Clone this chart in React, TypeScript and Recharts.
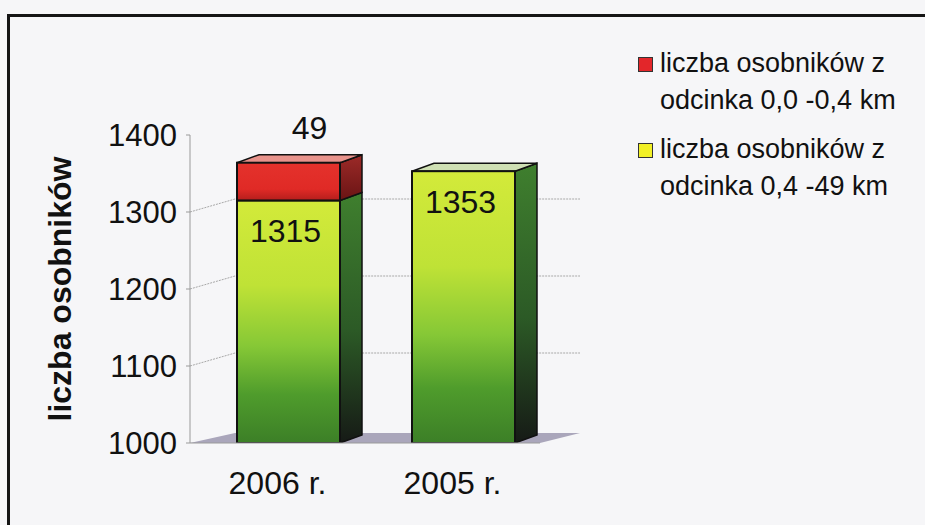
import { Bar, BarChart, CartesianGrid, Label, LabelList, XAxis, YAxis } from 'recharts'

const categories = ['2006 r.', '2005 r.']
// liczba osobników z odcinka 0,4 - 49 km
const odcinekDalszy = [1315, 1353]
// liczba osobników z odcinka 0,0 - 0,4 km
const odcinekBliski = [49, 0]
const yTicks = [1000, 1100, 1200, 1300, 1400]
const legendItems = [
  { lines: ['liczba osobników z', 'odcinka 0,0 -0,4 km'], color: '#e3262a' },
  { lines: ['liczba osobników z', 'odcinka 0,4 -49 km'], color: '#f2f026' },
]

const data = categories.map((name, i) => ({
  name,
  dalszy: odcinekDalszy[i],
  bliski: odcinekBliski[i],
}))

const FONT = '"Liberation Sans", Arial, sans-serif'
const W = 925
const H = 525
const MARGIN = { top: 135, right: 385, bottom: 32, left: 110 }
const X_AXIS_H = 50
const PLOT_TOP = MARGIN.top
const PLOT_BOTTOM = H - MARGIN.bottom - X_AXIS_H

// 3d look
const DX = 22
const DY = 8
const SHIFT = 11
const WALL_DX = 45
const WALL_DY = 13

function bottomOf(p: any) {
  const b = p.background ? p.background.y + p.background.height : PLOT_BOTTOM
  return Math.min(p.y + p.height, b)
}

function GreenShape(p: any) {
  const { y, width, payload } = p
  const x = p.x + SHIFT
  const bottom = bottomOf(p)
  if (bottom - y < 0.5) return null
  const right = x + width
  return (
    <g>
      <polygon
        points={`${right},${y} ${right + DX},${y - DY} ${right + DX},${bottom - DY} ${right},${bottom}`}
        fill="url(#greenSide)"
        stroke="#111"
        strokeWidth={1.5}
      />
      {payload.bliski === 0 && (
        <polygon
          points={`${x},${y} ${x + DX},${y - DY} ${right + DX},${y - DY} ${right},${y}`}
          fill="#cfe0b4"
          stroke="#111"
          strokeWidth={1.5}
        />
      )}
      <rect x={x} y={y} width={width} height={bottom - y} fill="url(#greenFront)" stroke="#111" strokeWidth={2} />
    </g>
  )
}

function RedShape(p: any) {
  const { y, width } = p
  const x = p.x + SHIFT
  const bottom = bottomOf(p)
  if (bottom - y < 0.5) return null
  const right = x + width
  return (
    <g>
      <polygon
        points={`${right},${y} ${right + DX},${y - DY} ${right + DX},${bottom - DY} ${right},${bottom}`}
        fill="url(#redSide)"
        stroke="#111"
        strokeWidth={1.5}
      />
      <polygon
        points={`${x},${y} ${x + DX},${y - DY} ${right + DX},${y - DY} ${right},${y}`}
        fill="#e8938c"
        stroke="#111"
        strokeWidth={1.5}
      />
      <rect x={x} y={y} width={width} height={bottom - y} fill="url(#redFront)" stroke="#111" strokeWidth={2} />
    </g>
  )
}

function wallLine(p: any) {
  const { x1, x2, y1, index } = p
  if (Math.abs(y1 - PLOT_TOP) < 1) return <g key={`wall-${index}`} />
  if (Math.abs(y1 - PLOT_BOTTOM) < 1) {
    return (
      <polygon
        key={`wall-${index}`}
        points={`${x1},${y1} ${x2},${y1} ${x2 + WALL_DX - 5},${y1 - WALL_DY + 3} ${x1 + WALL_DX},${y1 - WALL_DY + 3}`}
        fill="#aaa6bb"
      />
    )
  }
  return (
    <path
      key={`wall-${index}`}
      d={`M${x1},${y1} L${x1 + WALL_DX},${y1 - WALL_DY} L${x2 + WALL_DX - 5},${y1 - WALL_DY}`}
      stroke="#a8a8a8"
      strokeDasharray="2 1"
      fill="none"
    />
  )
}

function innerLabel(p: any) {
  const { x, y, width, value } = p
  if (!value) return null
  return (
    <text x={x + SHIFT + width / 2 - 3} y={y + 31} textAnchor="middle" dominantBaseline="central" fontSize={32} fill="#111" fontFamily={FONT}>
      {value}
    </text>
  )
}

function topLabel(p: any) {
  const { x, y, width, value } = p
  if (!value) return null
  return (
    <text x={x + SHIFT + width / 2 + 21} y={y - 35} textAnchor="middle" dominantBaseline="central" fontSize={32} fill="#111" fontFamily={FONT}>
      {value}
    </text>
  )
}

export default function App() {
  return (
    <div style={{ position: 'absolute', left: 0, top: 0, width: W, height: H, background: '#f6f6f8', overflow: 'hidden', fontFamily: FONT }}>
      <div style={{ position: 'absolute', left: 7, top: 14, width: 940, height: 540, border: '3px solid #151515' }} />
      <div style={{ position: 'absolute', left: 0, top: 0 }}>
        <BarChart width={W} height={H} data={data} margin={MARGIN} barSize={103}>
          <defs>
            <linearGradient id="greenFront" x1="0" y1="0" x2="0" y2="1">
              <stop offset="0%" stopColor="#d3ea3a" />
              <stop offset="35%" stopColor="#bfe236" />
              <stop offset="60%" stopColor="#86c836" />
              <stop offset="80%" stopColor="#4f9c2c" />
              <stop offset="100%" stopColor="#3c7f27" />
            </linearGradient>
            <linearGradient id="greenSide" x1="0" y1="0" x2="0" y2="1">
              <stop offset="0%" stopColor="#3f7f2e" />
              <stop offset="55%" stopColor="#2c5a26" />
              <stop offset="100%" stopColor="#161a16" />
            </linearGradient>
            <linearGradient id="redFront" x1="0" y1="0" x2="0" y2="1">
              <stop offset="0%" stopColor="#e4322c" />
              <stop offset="70%" stopColor="#e02a26" />
              <stop offset="100%" stopColor="#b41e1c" />
            </linearGradient>
            <linearGradient id="redSide" x1="0" y1="0" x2="0" y2="1">
              <stop offset="0%" stopColor="#9c2a28" />
              <stop offset="100%" stopColor="#6a1414" />
            </linearGradient>
          </defs>
          <CartesianGrid vertical={false} horizontal={wallLine} />
          <XAxis
            dataKey="name"
            height={X_AXIS_H}
            interval={0}
            axisLine={{ stroke: '#9a9a9a' }}
            tickLine={false}
            tickMargin={22}
            tick={{ fontSize: 32, fill: '#111', fontFamily: FONT }}
          />
          <YAxis
            domain={[1000, 1400]}
            ticks={yTicks}
            allowDataOverflow
            width={80}
            axisLine={{ stroke: '#9a9a9a' }}
            tickLine={{ stroke: '#9a9a9a' }}
            tickSize={4}
            tickMargin={9}
            tick={{ fontSize: 31, fill: '#111', fontFamily: FONT }}
          >
            <Label
              content={(lp: any) => {
                const vb = lp.viewBox
                const cx = vb.x - 50
                const cy = vb.y + vb.height / 2
                return (
                  <text
                    x={cx}
                    y={cy}
                    transform={`rotate(-90, ${cx}, ${cy})`}
                    textAnchor="middle"
                    dominantBaseline="central"
                    fontSize={32}
                    fontWeight="bold"
                    fill="#111"
                    fontFamily={FONT}
                  >
                    liczba osobników
                  </text>
                )
              }}
            />
          </YAxis>
          <Bar dataKey="dalszy" stackId="a" shape={GreenShape} isAnimationActive={false}>
            <LabelList dataKey="dalszy" content={innerLabel} />
          </Bar>
          <Bar dataKey="bliski" stackId="a" shape={RedShape} isAnimationActive={false}>
            <LabelList dataKey="bliski" content={topLabel} />
          </Bar>
        </BarChart>
      </div>
      <div style={{ position: 'absolute', left: 636, top: 45, color: '#111', fontSize: 27, lineHeight: '37px' }}>
        {legendItems.map((item, i) => (
          <div key={i} style={{ position: 'relative', paddingLeft: 24, marginBottom: i === 0 ? 12 : 0 }}>
            <span
              style={{
                position: 'absolute',
                left: 2,
                top: 12,
                width: 13,
                height: 13,
                background: item.color,
                border: '1px solid #333',
              }}
            />
            {item.lines.map((l, j) => (
              <div key={j} style={{ whiteSpace: 'nowrap' }}>
                {l}
              </div>
            ))}
          </div>
        ))}
      </div>
    </div>
  )
}
